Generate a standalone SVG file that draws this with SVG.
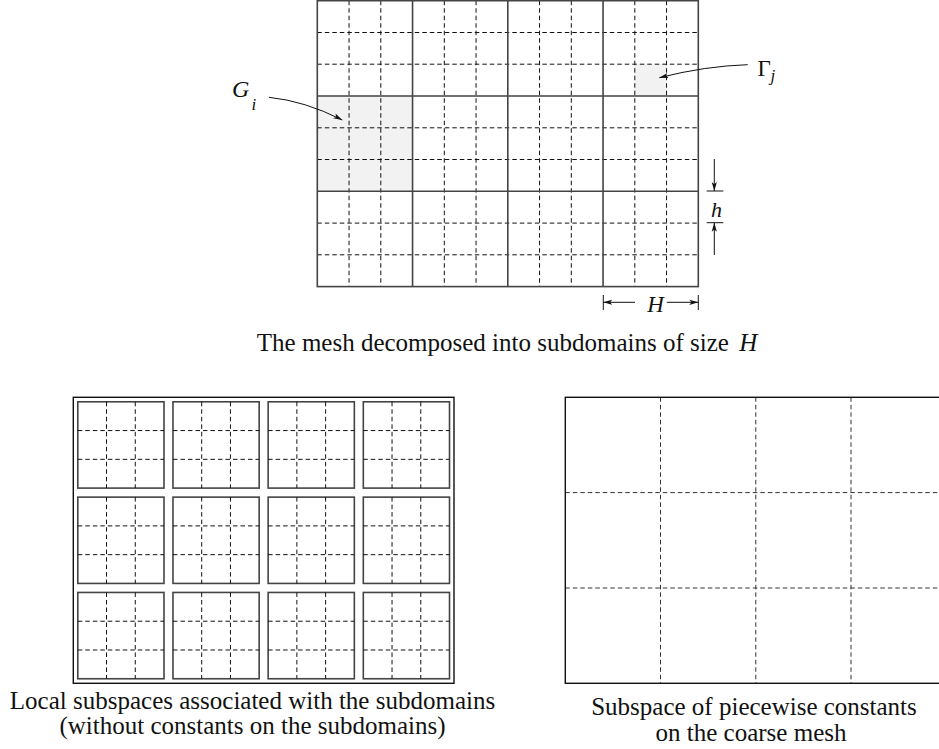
<svg xmlns="http://www.w3.org/2000/svg" width="939" height="749" viewBox="0 0 939 749">
<style>
  .heavy { fill: none; stroke: #444; stroke-width: 1.6; }
  .frame { fill: none; stroke: #111; stroke-width: 1.4; }
  .dash { fill: none; stroke: #111; stroke-width: 1; stroke-dasharray: 4.5 3; }
  .dashg { fill: none; stroke: #333; stroke-width: 1; stroke-dasharray: 4.5 3; }
  .shade { fill: #f2f2f2; stroke: none; }
  .conn { fill: none; stroke: #111; stroke-width: 1; }
  .cap { font-family: "Liberation Serif", "Times New Roman", serif; font-size: 25px; fill: #111; text-anchor: middle; }
  .math { font-family: "Liberation Serif", "Times New Roman", serif; fill: #111; }
</style>
<defs>
  <marker id="ah" markerUnits="userSpaceOnUse" markerWidth="10" markerHeight="8" refX="9" refY="3" orient="auto" viewBox="0 0 10 6">
    <path d="M0,0.4 L9,3 L0,5.6 L2.2,3 z" fill="#111"/>
  </marker>
</defs>
<rect width="939" height="749" fill="#fff"/>

<g id="mesh">
  <rect class="shade" x="317.3" y="96" width="95.25" height="95.3"/>
  <rect class="shade" x="634.8" y="64.2" width="31.75" height="31.8"/>
  <g class="dash">
    <path d="M349.05,0.7V286.6 M380.8,0.7V286.6 M444.3,0.7V286.6 M476.05,0.7V286.6 M539.55,0.7V286.6 M571.3,0.7V286.6 M634.8,0.7V286.6 M666.55,0.7V286.6"/>
    <path d="M317.3,32.5H698.3 M317.3,64.2H698.3 M317.3,127.8H698.3 M317.3,159.5H698.3 M317.3,223.1H698.3 M317.3,254.8H698.3"/>
  </g>
  <g class="heavy">
    <path d="M412.55,0.7V286.6 M507.8,0.7V286.6 M603.05,0.7V286.6"/>
    <path d="M317.3,96H698.3 M317.3,191.3H698.3"/>
    <rect x="317.3" y="0.7" width="381" height="285.9"/>
  </g>
</g>

<g id="labels">
  <text class="math" x="232" y="97" font-size="24" font-style="italic">G<tspan x="251.5" y="110" font-size="17">i</tspan></text>
  <text class="math" x="757.5" y="75.5" font-size="23">Γ<tspan x="770.5" y="81" font-size="17" font-style="italic">j</tspan></text>
  <text class="math" x="716.5" y="216.5" font-size="22" font-style="italic" text-anchor="middle">h</text>
  <text class="math" x="655.5" y="311.5" font-size="23" font-style="italic" text-anchor="middle">H</text>
</g>

<g id="connectors">
  <path class="conn" d="M269,97.3 Q305,101 342.3,120" marker-end="url(#ah)"/>
  <path class="conn" d="M747.7,64.7 Q705,66 659.3,77.7" marker-end="url(#ah)"/>
  <path class="conn" d="M714.3,159V191" marker-end="url(#ah)"/>
  <path class="conn" d="M714.3,255V222.7" marker-end="url(#ah)"/>
  <path class="conn" d="M706.7,191H723.3 M706.7,222.7H723.3"/>
  <path class="conn" d="M603.3,295V310 M698.3,295V310"/>
  <path class="conn" d="M635,302.3H603.3" marker-end="url(#ah)"/>
  <path class="conn" d="M666.7,302.3H698.3" marker-end="url(#ah)"/>
</g>

<g id="caption-top">
  <text class="cap" x="507" y="351">The mesh decomposed into subdomains of size <tspan dx="4" font-style="italic">H</tspan></text>
</g>

<g id="local-subspaces">
  <rect class="frame" x="73.3" y="397.3" width="380.7" height="286"/>
  <g id="subdomain-boxes">
    <rect class="heavy" x="77.8" y="401.8" width="86.2" height="86.3"/>
    <rect class="heavy" x="172.97" y="401.8" width="86.2" height="86.3"/>
    <rect class="heavy" x="268.14" y="401.8" width="86.2" height="86.3"/>
    <rect class="heavy" x="363.31" y="401.8" width="86.2" height="86.3"/>
    <rect class="heavy" x="77.8" y="497.13" width="86.2" height="86.3"/>
    <rect class="heavy" x="172.97" y="497.13" width="86.2" height="86.3"/>
    <rect class="heavy" x="268.14" y="497.13" width="86.2" height="86.3"/>
    <rect class="heavy" x="363.31" y="497.13" width="86.2" height="86.3"/>
    <rect class="heavy" x="77.8" y="592.46" width="86.2" height="86.3"/>
    <rect class="heavy" x="172.97" y="592.46" width="86.2" height="86.3"/>
    <rect class="heavy" x="268.14" y="592.46" width="86.2" height="86.3"/>
    <rect class="heavy" x="363.31" y="592.46" width="86.2" height="86.3"/>
  </g>
  <g class="dash">
    <path d="M106.53,401.8V488.1 M135.27,401.8V488.1 M201.7,401.8V488.1 M230.44,401.8V488.1 M296.87,401.8V488.1 M325.61,401.8V488.1 M392.04,401.8V488.1 M420.78,401.8V488.1"/>
    <path d="M106.53,497.13V583.43 M135.27,497.13V583.43 M201.7,497.13V583.43 M230.44,497.13V583.43 M296.87,497.13V583.43 M325.61,497.13V583.43 M392.04,497.13V583.43 M420.78,497.13V583.43"/>
    <path d="M106.53,592.46V678.76 M135.27,592.46V678.76 M201.7,592.46V678.76 M230.44,592.46V678.76 M296.87,592.46V678.76 M325.61,592.46V678.76 M392.04,592.46V678.76 M420.78,592.46V678.76"/>
    <path d="M77.8,430.57H164 M77.8,459.33H164 M172.97,430.57H259.17 M172.97,459.33H259.17 M268.14,430.57H354.34 M268.14,459.33H354.34 M363.31,430.57H449.51 M363.31,459.33H449.51"/>
    <path d="M77.8,525.9H164 M77.8,554.66H164 M172.97,525.9H259.17 M172.97,554.66H259.17 M268.14,525.9H354.34 M268.14,554.66H354.34 M363.31,525.9H449.51 M363.31,554.66H449.51"/>
    <path d="M77.8,621.23H164 M77.8,649.99H164 M172.97,621.23H259.17 M172.97,649.99H259.17 M268.14,621.23H354.34 M268.14,649.99H354.34 M363.31,621.23H449.51 M363.31,649.99H449.51"/>
  </g>
  <text class="cap" x="252.5" y="709">Local subspaces associated with the subdomains</text>
  <text class="cap" x="252.5" y="734">(without constants on the subdomains)</text>
</g>

<g id="coarse-mesh">
  <g class="dashg">
    <path d="M660.5,397.3V683.3 M755.8,397.3V683.3 M851,397.3V683.3"/>
    <path d="M565.3,492.6H946 M565.3,588H946"/>
  </g>
  <rect class="frame" x="565.3" y="397.3" width="381" height="286"/>
  <text class="cap" x="754" y="715">Subspace of piecewise constants</text>
  <text class="cap" x="751" y="741">on the coarse mesh</text>
</g>
</svg>
